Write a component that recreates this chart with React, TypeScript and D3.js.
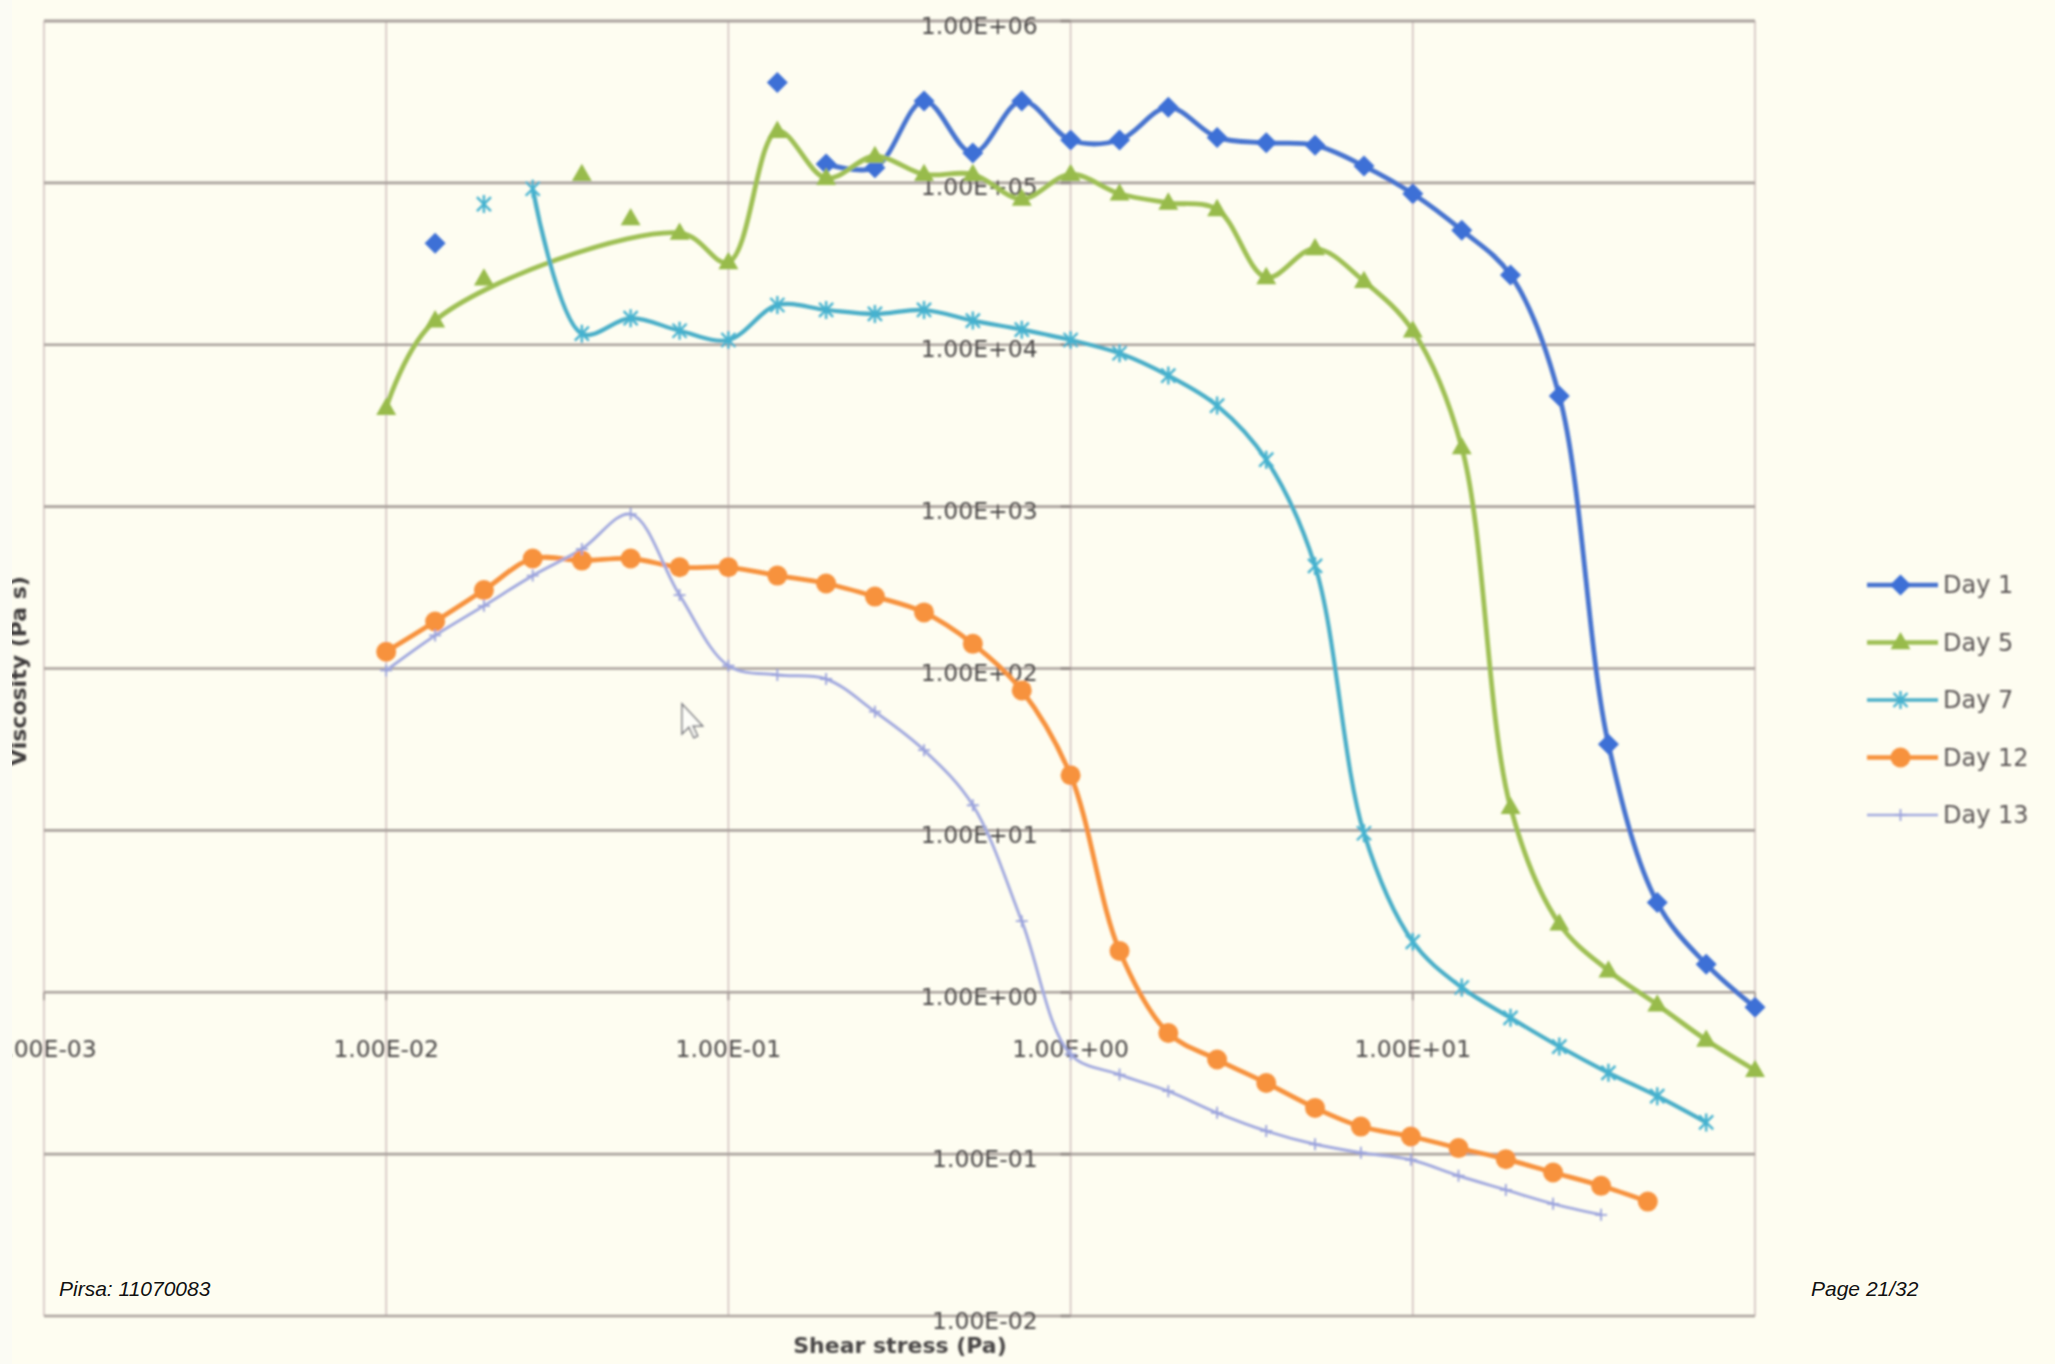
import React, { useEffect } from 'react';
import * as d3 from 'd3';

const W = 2055;
const H = 1364;

// Shear stress values (Pa)
const stressA = [0.01, 0.0139, 0.0193, 0.0268, 0.0373, 0.0518, 0.072, 0.1, 0.139, 0.193, 0.268, 0.373, 0.518, 0.72, 1, 1.39, 1.93, 2.68, 3.73, 5.18, 7.2, 10, 13.9, 19.3, 26.8, 37.3, 51.8, 72, 100];
const stressB = [0.01, 0.0139, 0.0193, 0.0268, 0.0373, 0.0518, 0.072, 0.1, 0.139, 0.193, 0.268, 0.373, 0.518, 0.72, 1, 1.39, 1.93, 2.68, 3.73, 5.18, 7.05, 9.87, 13.6, 18.7, 25.7, 35.5, 48.6];

// Viscosity (Pa s)
const day1 = [null, 4.23e4, null, null, null, null, null, null, 4.17e5, 1.31e5, 1.24e5, 3.21e5, 1.53e5, 3.21e5, 1.84e5, 1.84e5, 2.93e5, 1.91e5, 1.77e5, 1.71e5, 1.27e5, 8.57e4, 5.1e4, 2.7e4, 4.83e3, 34.0, 3.58, 1.49, 0.807];
const day5 = [4.06e3, 1.41e4, 2.56e4, null, 1.13e5, 6.03e4, 4.91e4, 3.23e4, 2.09e5, 1.07e5, 1.46e5, 1.13e5, 1.13e5, 7.96e4, 1.13e5, 8.57e4, 7.53e4, 6.86e4, 2.61e4, 3.93e4, 2.47e4, 1.22e4, 2.32e3, 13.9, 2.65, 1.36, 0.838, 0.507, 0.33];
const day7 = [null, null, 7.4e4, 9.2e4, 1.17e4, 1.46e4, 1.22e4, 1.07e4, 1.76e4, 1.64e4, 1.55e4, 1.64e4, 1.41e4, 1.24e4, 1.07e4, 8.86e3, 6.45e3, 4.21e3, 1.95e3, 430, 9.6, 2.05, 1.07, 0.695, 0.462, 0.318, 0.228, 0.157, null];
const day12 = [127, 195, 305, 478, 464, 478, 422, 422, 375, 335, 278, 222, 142, 73.2, 21.9, 1.8, 0.56, 0.384, 0.275, 0.193, 0.148, 0.1285, 0.109, 0.0931, 0.077, 0.0637, 0.0509];
const day13 = [97.3, 160, 244, 375, 547, 899, 284, 104, 91.2, 86.1, 54.1, 31.3, 14.3, 2.75, 0.413, 0.31, 0.245, 0.18, 0.139, 0.115, 0.102, 0.0923, 0.0735, 0.0601, 0.0493, 0.0422];

// Points drawn as markers only (not joined by the line)
const day1Isolated = [1, 8];
const day5Isolated = [2, 4, 5];
const day7Isolated = [2];

const seriesNames = ['Day 1', 'Day 5', 'Day 7', 'Day 12', 'Day 13'];
const yTicks = [1e-2, 1e-1, 1, 10, 100, 1e3, 1e4, 1e5, 1e6];
const xTicks = [1e-3, 1e-2, 1e-1, 1, 10, 100];
const xLabelTicks = [1e-3, 1e-2, 1e-1, 1, 10];

type Marker = 'diamond' | 'triangle' | 'asterisk' | 'circle' | 'plus';
interface Series {
  name: string;
  xs: number[];
  vs: (number | null)[];
  isolated: number[];
  color: string;
  markerColor: string;
  marker: Marker;
  width: number;
}

const series: Series[] = [
  { name: seriesNames[0], xs: stressA, vs: day1, isolated: day1Isolated, color: '#4673cf', markerColor: '#3d6fd6', marker: 'diamond', width: 4.8 },
  { name: seriesNames[1], xs: stressA, vs: day5, isolated: day5Isolated, color: '#9fc054', markerColor: '#98bb4c', marker: 'triangle', width: 4.8 },
  { name: seriesNames[2], xs: stressA, vs: day7, isolated: day7Isolated, color: '#4aaec8', markerColor: '#45b2d0', marker: 'asterisk', width: 4.2 },
  { name: seriesNames[3], xs: stressB, vs: day12, isolated: [], color: '#f7923c', markerColor: '#f7923c', marker: 'circle', width: 4.8 },
  { name: seriesNames[4], xs: stressB, vs: day13, isolated: [], color: '#a3aadf', markerColor: '#9aa2dc', marker: 'plus', width: 3 },
];

function fmtE(v: number): string {
  const e = Math.round(Math.log10(v));
  const sign = e < 0 ? '-' : '+';
  const a = Math.abs(e);
  return '1.00E' + sign + (a < 10 ? '0' + a : String(a));
}

function MarkerShape({ type, x, y, color }: { type: Marker; x: number; y: number; color: string }) {
  if (type === 'diamond') {
    const s = 10.5;
    return <path d={`M${x},${y - s}L${x + s},${y}L${x},${y + s}L${x - s},${y}Z`} fill={color} />;
  }
  if (type === 'triangle') {
    const s = 10.5;
    return <path d={`M${x},${y - s}L${x + s * 0.95},${y + s * 0.65}L${x - s * 0.95},${y + s * 0.65}Z`} fill={color} />;
  }
  if (type === 'circle') {
    return <circle cx={x} cy={y} r={10} fill={color} />;
  }
  if (type === 'asterisk') {
    const s = 7;
    return (
      <path
        d={`M${x - s},${y - s}L${x + s},${y + s}M${x - s},${y + s}L${x + s},${y - s}M${x},${y - s - 2}L${x},${y + s + 2}`}
        stroke={color}
        strokeWidth={2.4}
        fill="none"
      />
    );
  }
  const s = 6;
  return <path d={`M${x - s},${y}L${x + s},${y}M${x},${y - s}L${x},${y + s}`} stroke={color} strokeWidth={1.8} fill="none" />;
}

export default function App() {
  useEffect(() => {
    document.body.style.margin = '0';
    document.body.style.background = '#fefdf1';
  }, []);

  const x = d3.scaleLog().domain([1e-3, 1e2]).range([44, 1755]);
  const y = d3.scaleLog().domain([1e-2, 1e6]).range([1316, 21]);

  const line = d3
    .line<[number, number]>()
    .x((d) => x(d[0]))
    .y((d) => y(d[1]))
    .curve(d3.curveCatmullRom.alpha(0.5));

  const legendX0 = 1867;
  const legendX1 = 1938;
  const legendY0 = 585;
  const legendStep = 57.5;

  return (
    <svg width={W} height={H} style={{ position: 'absolute', left: 0, top: 0, display: 'block' }} xmlns="http://www.w3.org/2000/svg">
      <defs>
        <filter id="soft" x="-5%" y="-5%" width="110%" height="110%">
          <feGaussianBlur stdDeviation="0.8" />
        </filter>
      </defs>
      <rect x={0} y={0} width={W} height={H} fill="#fefdf1" />
      <g filter="url(#soft)">
        {/* vertical gridlines */}
        {xTicks.map((t) => (
          <line key={'vx' + t} x1={x(t)} x2={x(t)} y1={y(1e6)} y2={y(1e-2)} stroke="#cbb9b8" strokeWidth={1.4} />
        ))}
        {/* horizontal gridlines */}
        {yTicks.map((t) => (
          <line key={'hy' + t} x1={x(1e-3)} x2={x(1e2)} y1={y(t)} y2={y(t)} stroke="#a8a09b" strokeWidth={t === 1e6 ? 3 : 2.7} />
        ))}
        {/* y axis ticks at x = 1 */}
        {yTicks.map((t) => (
          <line key={'ty' + t} x1={x(1) - 10} x2={x(1)} y1={y(t)} y2={y(t)} stroke="#8e8682" strokeWidth={2.6} />
        ))}
        {/* x axis ticks at y = 1 */}
        {xTicks.map((t) => (
          <line key={'tx' + t} x1={x(t)} x2={x(t)} y1={y(1)} y2={y(1) + 8} stroke="#a89c9a" strokeWidth={2} />
        ))}

        {/* y tick labels */}
        {yTicks.map((t) => (
          <text
            key={'ly' + t}
            x={x(1) - 33}
            y={y(t) + 6}
            textAnchor="end"
            dominantBaseline="middle"
            fontFamily="DejaVu Sans, Verdana, sans-serif"
            fontSize={23.5}
            fill="#4a4646"
          >
            {fmtE(t)}
          </text>
        ))}
        {/* x tick labels */}
        {xLabelTicks.map((t) => (
          <text
            key={'lx' + t}
            x={x(t)}
            y={1050}
            textAnchor="middle"
            dominantBaseline="middle"
            fontFamily="DejaVu Sans, Verdana, sans-serif"
            fontSize={23.5}
            fill="#4a4646"
          >
            {fmtE(t)}
          </text>
        ))}

        {/* series lines */}
        {series.map((s) => {
          const pts: [number, number][] = [];
          s.vs.forEach((v, i) => {
            if (v != null && !s.isolated.includes(i)) pts.push([s.xs[i], v]);
          });
          return <path key={'ln' + s.name} d={line(pts) || ''} fill="none" stroke={s.color} strokeWidth={s.width} strokeLinejoin="round" />;
        })}
        {/* series markers */}
        {series.map((s) => (
          <g key={'mk' + s.name}>
            {s.vs.map((v, i) =>
              v == null ? null : <MarkerShape key={i} type={s.marker} x={x(s.xs[i])} y={y(v)} color={s.markerColor} />
            )}
          </g>
        ))}

        {/* legend */}
        {series.map((s, i) => {
          const ly = legendY0 + i * legendStep;
          return (
            <g key={'lg' + s.name}>
              <line x1={legendX0} x2={legendX1} y1={ly} y2={ly} stroke={s.color} strokeWidth={s.width - 0.5} />
              <MarkerShape type={s.marker} x={(legendX0 + legendX1) / 2 - 2} y={ly} color={s.markerColor} />
              <text x={legendX1 + 5} y={ly + 1} dominantBaseline="middle" fontFamily="DejaVu Sans, Verdana, sans-serif" fontSize={24} fill="#5a5555">
                {s.name}
              </text>
            </g>
          );
        })}

        {/* axis titles */}
        <text x={900} y={1347} textAnchor="middle" dominantBaseline="middle" fontFamily="DejaVu Sans, Verdana, sans-serif" fontWeight="bold" fontSize={22} fill="#4a4646">
          Shear stress (Pa)
        </text>
        <text
          transform="translate(26,671) rotate(-90)"
          textAnchor="middle"
          fontFamily="DejaVu Sans, Verdana, sans-serif"
          fontWeight="bold"
          fontSize={22}
          fill="#3e3a3a"
        >
          Viscosity (Pa s)
        </text>

        {/* mouse pointer */}
        <path
          transform="translate(682,704) scale(1.25)"
          d="M0,0L0,24L5.5,18.5L9.5,27L12.5,25.5L8.8,17.5L16.5,17.5Z"
          fill="#fdfdf8"
          stroke="#7a7a80"
          strokeWidth={1.2}
        />
      </g>

      {/* left slide edge */}
      <rect x={0} y={0} width={12} height={H} fill="#fbfbf4" />

      {/* footer */}
      <text x={59} y={1296} fontFamily="Liberation Sans, Arial, sans-serif" fontStyle="italic" fontSize={21} fill="#111">
        Pirsa: 11070083
      </text>
      <text x={1811} y={1296} fontFamily="Liberation Sans, Arial, sans-serif" fontStyle="italic" fontSize={21} fill="#111">
        Page 21/32
      </text>
    </svg>
  );
}
